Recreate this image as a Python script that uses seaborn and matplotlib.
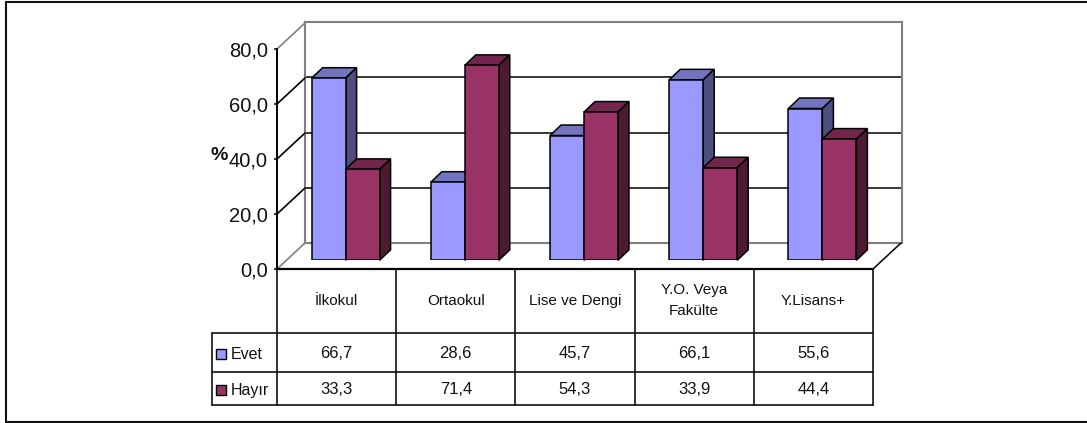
import matplotlib
matplotlib.use("Agg")
from matplotlib import pyplot as plt
from matplotlib.lines import Line2D
from matplotlib.patches import Polygon
import pandas as pd
import seaborn as sns

categories = ["İlkokul", "Ortaokul", "Lise ve Dengi", "Y.O. Veya\nFakülte", "Y.Lisans+"]
evet = [66.7, 28.6, 45.7, 66.1, 55.6]
hayir = [33.3, 71.4, 54.3, 33.9, 44.4]
series_names = ["Evet", "Hayır"]
y_ticks = [0, 20, 40, 60, 80]

front_colors = {"Evet": "#9999FF", "Hayır": "#993366"}
top_colors = {"Evet": "#7373BF", "Hayır": "#73264C"}
side_colors = {"Evet": "#4D4D80", "Hayır": "#4D1A33"}

W, H = 1087, 423

sns.set_theme(style="white")
plt.rcParams["font.family"] = ["Liberation Sans", "DejaVu Sans"]

df = pd.DataFrame({
    "kategori": categories * 2,
    "seri": [series_names[0]] * 5 + [series_names[1]] * 5,
    "yuzde": evet + hayir,
})


def axes_px(fig, left, top, right, bottom):
    # pixel box, y counted from the top of the image
    ax = fig.add_axes([left / W, 1 - bottom / H, (right - left) / W, (bottom - top) / H])
    ax.patch.set_alpha(0)
    return ax


fig = plt.figure(figsize=(W / 100, H / 100), dpi=100, facecolor="white")

# back wall
back = axes_px(fig, 305, 22, 902, 243)
back.set_xlim(-0.5, 4.5)
back.set_ylim(0, 80)
back.set_xticks([])
back.set_yticks(y_ticks[1:-1])
back.set_yticklabels([])
back.tick_params(left=False)
back.grid(axis="y", color="black", lw=1.1)
for s in back.spines.values():
    s.set_visible(True)
    s.set_color("#808080")
    s.set_linewidth(1.5)
back.set_zorder(1)

# front plane with the value axis
front = axes_px(fig, 277, 49, 873, 269)
front.set_xlim(-0.5, 4.5)
front.set_ylim(0, 80)
front.set_xticks([])
front.set_yticks(y_ticks)
front.set_yticklabels([f"{v:.1f}".replace(".", ",") for v in y_ticks], fontsize=14.5, color="#111111")
front.tick_params(axis="y", left=True, length=2.5, width=1.1, color="black", pad=4)
front.spines["top"].set_visible(False)
front.spines["right"].set_visible(False)
front.spines["left"].set_color("black")
front.spines["left"].set_linewidth(1.4)
front.spines["bottom"].set_color("black")
front.spines["bottom"].set_linewidth(1.6)
front.set_ylabel("%", rotation=0, fontsize=14, fontweight="bold", color="#111111", ha="center", va="center")
front.yaxis.set_label_coords((219 - 277) / 596, (269 - 155) / 220)
wall_dx = 28 / 119.2
wall_dy = 26 / 2.75
for v in y_ticks:
    c = "#808080" if v in (0, 80) else "black"
    front.plot([-0.5, -0.5 + wall_dx], [v, v + wall_dy], color=c, lw=1.2, clip_on=False)
front.plot([4.5, 4.5 + wall_dx], [0, wall_dy], color="black", lw=1.1, clip_on=False)
front.set_zorder(2)

# bars, their plane sits a little behind the front plane
bars = axes_px(fig, 286, 260.3 - 2.73 * 80, 882, 260.3)
sns.barplot(data=df, x="kategori", y="yuzde", hue="seri", hue_order=series_names,
            palette=front_colors, width=0.57, saturation=1, edgecolor="black",
            linewidth=1.1, legend=False, ax=bars)
bars.set_xlim(-0.5, 4.5)
bars.set_ylim(0, 80)
bars.axis("off")
bars.set_zorder(3)

depth_x = 11 / 119.2
depth_y = 10.5 / 2.73
n = len(categories)
for i, bar in enumerate(bars.patches[:2 * n]):
    name = series_names[i // n]
    x0, w, h = bar.get_x(), bar.get_width(), bar.get_height()
    z = 3 + i // n
    bar.set_zorder(z + 0.1)
    top_face = [(x0, h), (x0 + depth_x, h + depth_y), (x0 + w + depth_x, h + depth_y), (x0 + w, h)]
    side_face = [(x0 + w, 0), (x0 + w + depth_x, depth_y), (x0 + w + depth_x, h + depth_y), (x0 + w, h)]
    bars.add_patch(Polygon(top_face, fc=top_colors[name], ec="black", lw=1.1, zorder=z, clip_on=False))
    bars.add_patch(Polygon(side_face, fc=side_colors[name], ec="black", lw=1.1, zorder=z, clip_on=False))

# data table under the chart
table = axes_px(fig, 212, 269, 873, 405)
legend_w = 65 / 119.2
table.set_xlim(-0.5 - legend_w, 4.5)
table.set_ylim(136, 0)
table.axis("off")
table.set_zorder(4)
row_edges = [64, 103, 136]
line_kw = dict(color="#111111", lw=1.2, clip_on=False)
for y in row_edges:
    table.plot([-0.5 - legend_w, 4.5], [y, y], **line_kw)
table.plot([-0.5 - legend_w] * 2, [64, 136], **line_kw)
for k in range(n + 1):
    table.plot([k - 0.5, k - 0.5], [0, 136], **line_kw)
for k, label in enumerate(categories):
    table.text(k, 31.5, label, ha="center", va="center", fontsize=11, color="#111111", linespacing=1.7)
for row_y, name, values in zip([84.5, 120.5], series_names, [evet, hayir]):
    table.scatter([-0.5 - legend_w + 8.5 / 119.2], [row_y], marker="s", s=48,
                  facecolor=front_colors[name], edgecolor="black", linewidth=1.0, clip_on=False)
    table.text(-0.5 - legend_w + 19 / 119.2, row_y + 0.5, name, ha="left", va="center", fontsize=11.5, color="#111111")
    for k, v in enumerate(values):
        table.text(k, row_y, f"{v:.1f}".replace(".", ","), ha="center", va="center", fontsize=12, color="#111111")

# outer frame, open on the right
frame_kw = dict(color="#111111", lw=1.5, transform=fig.transFigure)
fig.add_artist(Line2D([6 / W, 6 / W], [1 - 2 / H, 1 - 422 / H], **frame_kw))
fig.add_artist(Line2D([6 / W, 1], [1 - 2 / H, 1 - 2 / H], **frame_kw))
fig.add_artist(Line2D([6 / W, 1], [1 - 422 / H, 1 - 422 / H], **frame_kw))

plt.savefig("out.png", dpi=100)
